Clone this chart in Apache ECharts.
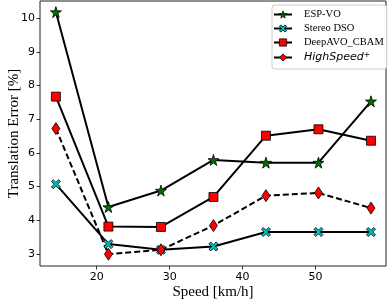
<!DOCTYPE html>
<html><head><meta charset="utf-8">
<script src="https://cdn.jsdelivr.net/npm/echarts@6/dist/echarts.min.js"></script>
<style>html,body{margin:0;padding:0;background:#fff}#c{width:389px;height:303px}</style>
</head><body><div id="c"></div>
<script>
var speeds = [14.4, 21.6, 28.8, 36.0, 43.2, 50.4, 57.6];
var espVO = [10.18, 4.39, 4.88, 5.79, 5.71, 5.71, 7.53];
var stereoDSO = [5.07, 3.29, 3.12, 3.22, 3.65, 3.65, 3.65];
var deepAVO = [7.67, 3.81, 3.80, 4.69, 6.51, 6.70, 6.36];
var highSpeed = [6.72, 2.99, 3.12, 3.84, 4.73, 4.81, 4.36];
var xTicks = [20, 30, 40, 50];
var yTicks = [3, 4, 5, 6, 7, 8, 9, 10];
var names = ['ESP-VO', 'Stereo DSO', 'DeepAVO_CBAM', 'HighSpeed+'];
var colors = ['#007000', '#00bfbf', '#ff0000', '#ff0000'];

function pairs(v){ return v.map(function(y,i){ return [speeds[i], y]; }); }
var starPath = 'path://M50,0 L61,35 L98,35 L68,57 L79,91 L50,70 L21,91 L32,57 L2,35 L39,35 Z';
var xPath = 'path://M2,0 L5,3 L8,0 L10,2 L7,5 L10,8 L8,10 L5,7 L2,10 L0,8 L3,5 L0,2 Z';
var syms = [starPath, xPath, 'rect', 'diamond'];

function mk(i, data, size, dashed){
  return {
    name: names[i], type: 'line', data: pairs(data),
    symbol: syms[i], symbolSize: size, showSymbol: true,
    lineStyle: {color: '#000', width: 2, type: dashed ? [6, 3] : 'solid'},
    itemStyle: {color: colors[i], borderColor: '#000', borderWidth: 0.8, opacity: 1},
    emphasis: {disabled: true}, animation: false
  };
}
var legendData = names.map(function(n, i){
  return {name: n,
    itemStyle: {color: colors[i], borderColor: '#000', borderWidth: 0.8},
    lineStyle: {color: '#000', width: 2, type: 'solid'}};
});
var chart = echarts.init(document.getElementById('c'));
chart.setOption({
  animation: false,
  grid: {left: 40, top: 1, right: 3, bottom: 37, show: true, borderColor: '#222', borderWidth: 1,
         containLabel: false, outerBoundsMode: 'none'},
  xAxis: {
    type: 'value', min: 12.22, max: 59.66,
    name: 'Speed [km/h]', nameLocation: 'middle', nameGap: 19, nameMoveOverlap: false,
    nameTextStyle: {fontFamily: 'Liberation Serif', fontSize: 15, color: '#000'},
    axisLine: {show: false}, splitLine: {show: false},
    axisTick: {show: true, inside: false, length: 3.5, customValues: xTicks, lineStyle: {color: '#000', width: 0.8}},
    axisLabel: {customValues: xTicks, fontFamily: 'DejaVu Sans', fontSize: 11, color: '#000', margin: 6}
  },
  yAxis: {
    type: 'value', min: 2.64, max: 10.51,
    name: 'Translation Error [%]', nameLocation: 'middle', nameGap: 18, nameMoveOverlap: false,
    nameTextStyle: {fontFamily: 'Liberation Serif', fontSize: 15, color: '#000'},
    axisLine: {show: false}, splitLine: {show: false},
    axisTick: {show: true, inside: false, length: 3.5, customValues: yTicks, lineStyle: {color: '#000', width: 0.8}},
    axisLabel: {customValues: yTicks, fontFamily: 'DejaVu Sans', fontSize: 11, color: '#000', margin: 5}
  },
  legend: {
    data: legendData, orient: 'vertical', left: 272, top: 5,
    itemWidth: 18, itemHeight: 9, itemGap: 3,
    padding: [4, 3, 6, 1],
    borderColor: '#ccc', borderWidth: 1, borderRadius: 3, backgroundColor: '#fff',
    textStyle: {fontFamily: 'Liberation Serif', fontSize: 10.5, color: '#000', padding: [0, 0, 0, 7],
      rich: {r: {fontFamily: 'Liberation Serif', fontSize: 10.5, color: '#000'},
             i: {fontFamily: 'DejaVu Sans', fontStyle: 'italic', fontSize: 11, color: '#000'},
             s: {fontFamily: 'DejaVu Sans', fontSize: 7.5, color: '#000', verticalAlign: 'top', padding: [0,0,5,0]}}},
    formatter: function(n){ return n === 'HighSpeed+' ? '{i|HighSpeed}{s|+}' : '{r|' + n + '}'; }
  },
  series: [
    mk(0, espVO, 11, false),
    mk(1, stereoDSO, 9, false),
    mk(2, deepAVO, 9, false),
    mk(3, highSpeed, [8, 12], true)
  ]
});
</script></body></html>
